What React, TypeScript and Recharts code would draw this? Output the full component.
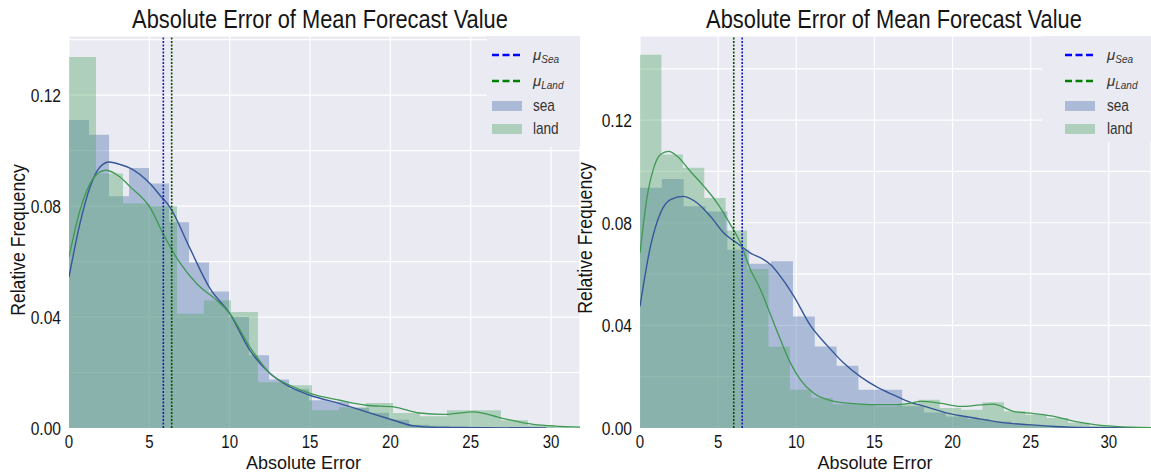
import React from 'react';
import { ComposedChart, Area, Line, XAxis, YAxis, CartesianGrid, ReferenceLine } from 'recharts';

const FONT = "'Liberation Sans', Arial, sans-serif";
const SEA = '#4C72B0';
const LAND = '#55A868';
const BG = '#EAEAF2';
const TXT = '#151515';

const xTicks = [0, 5, 10, 15, 20, 25, 30];
const yTicks = [0, 0.02, 0.04, 0.06, 0.08, 0.1, 0.12, 0.14];

// ---------- left panel ----------
const leftSeaBinWidth = 1.245;
const leftSeaHist = [0.111, 0.1057, 0.0835, 0.0937, 0.0881, 0.0742, 0.0597, 0.0492, 0.04, 0.0262, 0.0175, 0.014,
  0.01, 0.0095, 0.0072, 0.0055, 0.003, 0.0012, 0.0008, 0.0005, 0.0004, 0.0003, 0.0003, 0.0002, 0.0002];
const leftLandBinWidth = 1.68;
const leftLandHist = [0.1337, 0.0917, 0.0809, 0.0799, 0.0412, 0.046, 0.0418, 0.0165, 0.0154, 0.0064, 0.0075,
  0.009, 0.0054, 0.0042, 0.0064, 0.0064, 0.0028, 0.001, 0.0003];
const leftSeaKde = [[0, 0.0544], [0.68, 0.0737], [1.31, 0.0869], [1.93, 0.0941], [2.5, 0.0959], [3.17, 0.095],
  [3.8, 0.0937], [5.04, 0.0881], [5.66, 0.0839], [6.28, 0.0796], [7.49, 0.0652], [8.77, 0.0503], [10.0, 0.0413],
  [11.26, 0.028], [12.5, 0.0197], [13.75, 0.0148], [15.0, 0.0118], [16.86, 0.0088], [18.5, 0.0058], [20.2, 0.0028],
  [21.4, 0.0008], [23, 0.0002], [26, 0.0001], [29.7, 0]];
const leftLandKde = [[0, 0.0616], [0.68, 0.0784], [1.31, 0.0881], [1.93, 0.0923], [2.3, 0.0929], [3.17, 0.0905],
  [3.8, 0.087], [5.04, 0.0795], [5.86, 0.07], [6.8, 0.0604], [7.95, 0.052], [9.2, 0.046], [10.0, 0.0413],
  [11.26, 0.0292], [12.5, 0.0197], [13.75, 0.0154], [15.0, 0.0125], [16.86, 0.01], [18.5, 0.0082], [20.2, 0.0076],
  [21.8, 0.0054], [23.3, 0.0049], [25.2, 0.0058], [26.9, 0.0036], [28.9, 0.0013], [31.8, 0.0003]];
const leftMeanSea = 5.87;
const leftMeanLand = 6.39;

// ---------- right panel ----------
const rightSeaBinWidth = 1.398;
const rightSeaHist = [0.0936, 0.0971, 0.0864, 0.0844, 0.0695, 0.064, 0.065, 0.0435, 0.0318, 0.0243, 0.0149, 0.0149,
  0.0085, 0.006, 0.0045, 0.0035, 0.0025, 0.0015, 0.001, 0.0006, 0.0004, 0.0003, 0.0002];
const rightLandBinWidth = 1.37;
const rightLandHist = [0.1455, 0.1066, 0.1014, 0.0897, 0.077, 0.062, 0.0317, 0.0149, 0.0117, 0.0093, 0.0093, 0.0084,
  0.0095, 0.011, 0.0078, 0.0071, 0.01, 0.0065, 0.0052, 0.0039, 0.002, 0.0008, 0.0003];
const rightSeaKde = [[0, 0.0474], [0.67, 0.0708], [1.31, 0.0838], [1.95, 0.089], [2.77, 0.0903], [3.66, 0.0877],
  [4.51, 0.0825], [5.36, 0.076], [6.2, 0.0721], [7.07, 0.0682], [7.92, 0.0656], [8.35, 0.0637], [9.0, 0.059],
  [9.85, 0.0513], [10.9, 0.04], [12.0, 0.032], [13.0, 0.0255], [14.1, 0.02], [15.2, 0.0158], [16.25, 0.0128],
  [17.3, 0.01], [18.0, 0.0088], [19.67, 0.0058], [21.4, 0.0039], [23.1, 0.0022], [24.8, 0.0013], [26.5, 0.0006],
  [28.2, 0.0002], [30, 0.0001], [32.7, 0]];
const rightLandKde = [[0, 0.0682], [0.46, 0.0903], [0.88, 0.1014], [1.31, 0.1066], [1.84, 0.1078], [2.38, 0.1059],
  [3.23, 0.1], [4.09, 0.0942], [4.94, 0.0877], [5.79, 0.0793], [6.43, 0.0721], [7.07, 0.0617], [7.71, 0.054],
  [8.35, 0.0442], [8.99, 0.0344], [9.63, 0.0253], [10.27, 0.0188], [11.1, 0.0136], [12.4, 0.0104], [13.7, 0.0095],
  [14.96, 0.0091], [16.25, 0.0091], [17.3, 0.0097], [17.96, 0.0104], [19.2, 0.0097], [20.5, 0.0084], [21.8, 0.009],
  [22.6, 0.0093], [23.9, 0.0065], [25.2, 0.0056], [26.5, 0.0045], [27.8, 0.0026], [29.1, 0.0013], [30.4, 0.0006],
  [32.7, 0.0001]];
const rightMeanSea = 6.54;
const rightMeanLand = 6.0;

const titleText = 'Absolute Error of Mean Forecast Value';
const xLabelText = 'Absolute Error';
const yLabelText = 'Relative Frequency';

function histSteps(values: number[], width: number) {
  const pts = values.map((v, i) => ({ x: i * width, y: v }));
  pts.push({ x: values.length * width, y: values[values.length - 1] });
  return pts;
}
function kdePts(pairs: number[][]) {
  return pairs.map(([x, y]) => ({ x, y }));
}

const yFmt = (v: number) => (Math.round(v * 100) % 4 === 0 ? v.toFixed(2) : '');

// horizontally condensed text, to mimic the reference's narrow face
function NText(props: { x: number; y: number; sx: number; size: number; anchor: string; rotate?: number; dy?: string; children: React.ReactNode; fill?: string }) {
  const rot = props.rotate ? ` rotate(${props.rotate})` : '';
  return (
    <text
      transform={`translate(${props.x},${props.y})${rot} scale(${props.sx},1)`}
      textAnchor={props.anchor as any}
      dy={props.dy}
      fontFamily={FONT}
      fontSize={props.size}
      fill={props.fill || TXT}
    >
      {props.children}
    </text>
  );
}

const XTick = (props: any) => (
  <NText x={props.x} y={props.y} sx={0.86} size={17.5} anchor="middle" dy="0.71em">
    {String(props.payload.value)}
  </NText>
);
const YTick = (props: any) => {
  const s = yFmt(props.payload.value);
  if (!s) return <g />;
  return (
    <NText x={props.x} y={props.y} sx={0.82} size={19} anchor="end" dy="0.36em">
      {s}
    </NText>
  );
};

type PanelProps = {
  width: number;
  margin: { top: number; right: number; bottom: number; left: number };
  xMax: number;
  yMax: number;
  seaHist: number[];
  seaBin: number;
  landHist: number[];
  landBin: number;
  seaKde: number[][];
  landKde: number[][];
  meanSea: number;
  meanLand: number;
};

function Panel(p: PanelProps) {
  return (
    <ComposedChart width={p.width} height={472} margin={p.margin}>
      <CartesianGrid fill={BG} stroke="#ffffff" strokeWidth={1.2} />
      <XAxis
        type="number"
        dataKey="x"
        domain={[0, p.xMax]}
        ticks={xTicks}
        allowDataOverflow
        axisLine={false}
        tickLine={false}
        tickSize={0}
        tickMargin={8}
        height={30}
        tick={<XTick />}
      />
      <YAxis
        type="number"
        dataKey="y"
        domain={[0, p.yMax]}
        ticks={yTicks}
        allowDataOverflow
        axisLine={false}
        tickLine={false}
        tickSize={0}
        tickMargin={8}
        width={60}
        tick={<YTick />}
      />
      <Area data={histSteps(p.seaHist, p.seaBin)} dataKey="y" type="stepAfter" fill={SEA} fillOpacity={0.4}
        stroke="none" isAnimationActive={false} dot={false} activeDot={false} />
      <Area data={histSteps(p.landHist, p.landBin)} dataKey="y" type="stepAfter" fill={LAND} fillOpacity={0.4}
        stroke="none" isAnimationActive={false} dot={false} activeDot={false} />
      <Line data={kdePts(p.seaKde)} dataKey="y" type="monotone" stroke="#35579a" strokeWidth={1.4} dot={false}
        activeDot={false} isAnimationActive={false} />
      <Line data={kdePts(p.landKde)} dataKey="y" type="monotone" stroke="#3f9953" strokeWidth={1.3} dot={false}
        activeDot={false} isAnimationActive={false} />
      <ReferenceLine x={p.meanSea} stroke="#1a1ab8" strokeWidth={1.6} strokeDasharray="2 1.5" />
      <ReferenceLine x={p.meanLand} stroke="#0b4a0b" strokeWidth={1.6} strokeDasharray="2 1.5" />
    </ComposedChart>
  );
}

function LegendBox({ x, y, w, h, lineX, textX }: { x: number; y: number; w: number; h: number; lineX: number; textX: number }) {
  const rows = [55, 81, 106, 129];
  return (
    <g>
      <rect x={x} y={y} width={w} height={h} fill={BG} />
      <line x1={lineX} x2={lineX + 30} y1={rows[0]} y2={rows[0]} stroke="#0000ff" strokeWidth={2.5} strokeDasharray="7 3.5" />
      <line x1={lineX} x2={lineX + 30} y1={rows[1]} y2={rows[1]} stroke="#008000" strokeWidth={2.5} strokeDasharray="7 3.5" />
      <rect x={lineX} y={rows[2] - 5} width={30} height={10} fill={SEA} fillOpacity={0.4} />
      <rect x={lineX} y={rows[3] - 5} width={30} height={10} fill={LAND} fillOpacity={0.4} />
      <text x={textX} y={rows[0] + 5} fontFamily={FONT} fontSize={15} fill="#333" fontStyle="italic">
        μ<tspan fontSize={10} dy={3}>Sea</tspan>
      </text>
      <text x={textX} y={rows[1] + 5} fontFamily={FONT} fontSize={15} fill="#333" fontStyle="italic">
        μ<tspan fontSize={10} dy={3}>Land</tspan>
      </text>
      <NText x={textX} y={rows[2] + 5} sx={0.85} size={16} anchor="start" fill="#333">sea</NText>
      <NText x={textX} y={rows[3] + 5} sx={0.85} size={16} anchor="start" fill="#333">land</NText>
    </g>
  );
}

export default function App() {
  return (
    <div style={{ position: 'absolute', left: 0, top: 0, width: 1151, height: 472, background: '#fff', overflow: 'hidden' }}>
      <div style={{ position: 'absolute', left: 0, top: 0 }}>
        <Panel
          width={590}
          margin={{ top: 36, right: 10, bottom: 14, left: 9 }}
          xMax={31.8}
          yMax={0.1413}
          seaHist={leftSeaHist}
          seaBin={leftSeaBinWidth}
          landHist={leftLandHist}
          landBin={leftLandBinWidth}
          seaKde={leftSeaKde}
          landKde={leftLandKde}
          meanSea={leftMeanSea}
          meanLand={leftMeanLand}
        />
      </div>
      <div style={{ position: 'absolute', left: 580, top: 0 }}>
        <Panel
          width={571}
          margin={{ top: 36, right: 0, bottom: 14, left: 0 }}
          xMax={32.7}
          yMax={0.1528}
          seaHist={rightSeaHist}
          seaBin={rightSeaBinWidth}
          landHist={rightLandHist}
          landBin={rightLandBinWidth}
          seaKde={rightSeaKde}
          landKde={rightLandKde}
          meanSea={rightMeanSea}
          meanLand={rightMeanLand}
        />
      </div>
      <svg width={1151} height={472} style={{ position: 'absolute', left: 0, top: 0, pointerEvents: 'none' }}>
        <NText x={320} y={28} sx={0.84} size={26} anchor="middle">{titleText}</NText>
        <NText x={894} y={28} sx={0.84} size={26} anchor="middle">{titleText}</NText>
        <NText x={303.5} y={468.5} sx={1} size={18} anchor="middle">{xLabelText}</NText>
        <NText x={875} y={468.5} sx={1} size={18} anchor="middle">{xLabelText}</NText>
        <NText x={25} y={240} sx={0.88} size={20} anchor="middle" rotate={-90}>{yLabelText}</NText>
        <NText x={592} y={238} sx={0.88} size={20} anchor="middle" rotate={-90}>{yLabelText}</NText>
        <LegendBox x={487} y={36} w={93} h={111} lineX={492} textX={533} />
        <LegendBox x={1042} y={36} w={109} h={106} lineX={1065} textX={1107} />
      </svg>
    </div>
  );
}
